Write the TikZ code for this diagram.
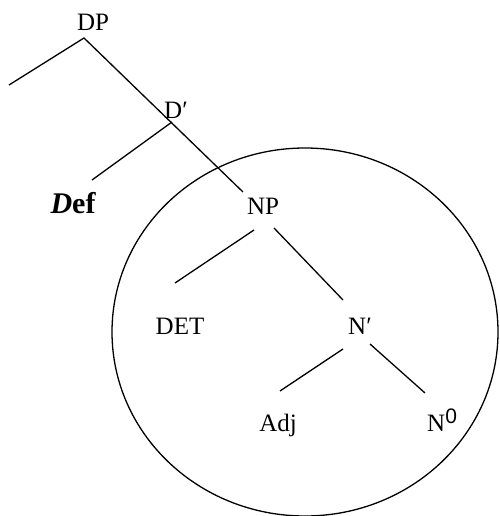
\documentclass[tikz,border=0pt]{standalone}
\usepackage{fontspec}
\setmainfont{Liberation Serif}
\setsansfont{Liberation Sans}
\begin{document}
\begin{tikzpicture}[x=1pt,y=-1pt,
  lab/.style={anchor=base,inner sep=0pt,font=\fontsize{25}{30}\selectfont},
  edge/.style={line width=1.3pt}]
\useasboundingbox (0,0) rectangle (499,516);
% labels
\node[lab] (dp) at (93,31) {DP};
\node[lab] (dbar) at (176,118) {D′};
\node[lab,font=\fontsize{30}{36}\selectfont\bfseries] (def) at (73,213) {\textit{D}ef};
\node[lab] (np) at (263,214) {NP};
\node[lab] (det) at (180,334) {DET};
\node[lab] (nbar) at (360,334) {N′};
\node[lab] (adj) at (278,431) {Adj};
\node[lab,anchor=base west] (n0) at (427,431) {N\raisebox{8pt}{\fontsize{21}{21}\sffamily 0}};
% connector end points
\coordinate (dpb) at (84,38);
\coordinate (spec) at (9,85);
\coordinate (npt) at (243,192);
\coordinate (dbarb) at (172,122);
\coordinate (deft) at (92,180);
\coordinate (npl) at (254,230);
\coordinate (npr) at (274,228);
\coordinate (dett) at (175,283);
\coordinate (nbart) at (343,300);
\coordinate (nbarl) at (343,349);
\coordinate (nbarr) at (370,344);
\coordinate (adjt) at (280,391);
\coordinate (n0t) at (425,393);
% edges
\draw[edge] (spec) -- (dpb) -- (npt);
\draw[edge] (dbarb) -- (deft);
\draw[edge] (npl) -- (dett);
\draw[edge] (npr) -- (nbart);
\draw[edge] (nbarl) -- (adjt);
\draw[edge] (nbarr) -- (n0t);
% enclosing circle
\draw[edge] (305,332) ellipse [x radius=193, y radius=184];
\end{tikzpicture}
\end{document}
